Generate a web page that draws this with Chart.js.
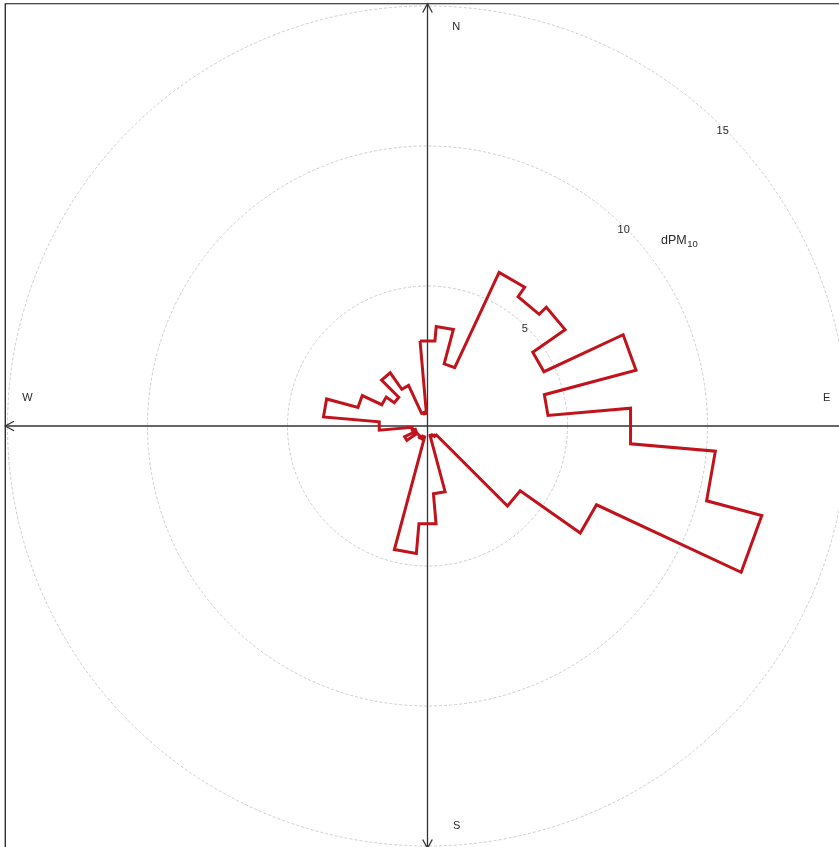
<!DOCTYPE html>
<html>
<head>
<meta charset="utf-8">
<script src="https://cdn.jsdelivr.net/npm/chart.js@4.4.1/dist/chart.umd.min.js"></script>
<style>
  html, body { margin: 0; padding: 0; background: #ffffff; }
  #wrap { width: 839px; height: 847px; }
</style>
</head>
<body>
<div id="wrap"><canvas id="rose" width="839" height="847"></canvas></div>
<script>
// Centre of each 10° wind sector, degrees clockwise from north
const directions = [0, 10, 20, 30, 40, 50, 60, 70, 80, 90, 100, 110,
                    120, 130, 140, 150, 160, 170, 180, 190, 200, 210, 220, 230,
                    240, 250, 260, 270, 280, 290, 300, 310, 320, 330, 340, 350];
// dPM10 per sector
const dpm10 = [3.05, 3.57, 2.30, 6.05, 5.64, 6.00, 4.59, 7.71, 4.32, 7.28, 10.32, 12.36,
               6.66, 4.04, 0.45, 0.40, 0.35, 2.43, 3.50, 4.57, 0.40, 0.50, 0.45, 0.45,
               0.90, 0.45, 0.55, 1.73, 3.73, 2.57, 1.80, 1.45, 2.32, 1.60, 0.50, 0.45];
const sectorWidth = 10;
// Concentric reference rings and their labels
const ringLevels = [5, 10, 15];
const compassLabels = ['N', 'E', 'S', 'W'];
const seriesName = 'dPM';
const seriesSub = '10';

// Outline: each sector is a flat chord at its value, joined radially to the next
const outline = [];
directions.forEach((d, i) => {
  const r = dpm10[i];
  [d - sectorWidth / 2, d + sectorWidth / 2].forEach(a => {
    const t = a * Math.PI / 180;
    outline.push({ x: r * Math.sin(t), y: r * Math.cos(t) });
  });
});
outline.push(outline[0]);

const PX = 28;            // pixels per unit
const CX = 427.5, CY = 426;
const W = 839, H = 847;
const AXIS_EXT = 15.08;   // half-length of the compass axes, in units

const roseDecor = {
  id: 'roseDecor',
  beforeDatasetsDraw(chart) {
    const { ctx, scales: { x, y } } = chart;
    const px = v => x.getPixelForValue(v);
    const py = v => y.getPixelForValue(v);
    const cx = px(0), cy = py(0);
    ctx.save();

    // rings
    ctx.strokeStyle = '#cdcdcd';
    ctx.lineWidth = 1;
    ctx.setLineDash([3, 2]);
    ringLevels.forEach(r => {
      ctx.beginPath();
      ctx.arc(cx, cy, px(r) - cx, 0, Math.PI * 2);
      ctx.stroke();
    });
    ctx.setLineDash([]);

    // plot frame (left and top edges)
    const left = px(-AXIS_EXT), top = py(AXIS_EXT);
    ctx.strokeStyle = '#111';
    ctx.lineWidth = 1.2;
    ctx.beginPath();
    ctx.moveTo(left, H + 5); ctx.lineTo(left, top); ctx.lineTo(W + 5, top);
    ctx.stroke();

    // compass axes with open arrowheads
    const arrow = (ax, ay, dx, dy) => {
      const len = 10, spread = 0.5;
      const ang = Math.atan2(dy, dx);
      ctx.beginPath();
      ctx.moveTo(ax - len * Math.cos(ang - spread), ay - len * Math.sin(ang - spread));
      ctx.lineTo(ax, ay);
      ctx.lineTo(ax - len * Math.cos(ang + spread), ay - len * Math.sin(ang + spread));
      ctx.stroke();
    };
    ctx.strokeStyle = '#333';
    ctx.lineWidth = 1.3;
    const xl = px(-AXIS_EXT), xr = px(AXIS_EXT), yt = py(AXIS_EXT), yb = py(-AXIS_EXT);
    ctx.beginPath();
    ctx.moveTo(xl, cy); ctx.lineTo(xr, cy);
    ctx.moveTo(cx, yt); ctx.lineTo(cx, yb);
    ctx.stroke();
    arrow(xl, cy, -1, 0);
    arrow(xr, cy, 1, 0);
    arrow(cx, yt, 0, -1);
    arrow(cx, yb, 0, 1);

    // ring labels along the 45° bearing
    ctx.fillStyle = '#2a2a2a';
    ctx.font = '11px Arial, "Liberation Sans", sans-serif';
    ctx.textAlign = 'center';
    ctx.textBaseline = 'middle';
    const s45 = Math.SQRT1_2;
    ringLevels.forEach(r => {
      const rr = r - 0.09;
      ctx.fillText(String(r), px(rr * s45), py(rr * s45));
    });

    // compass letters
    const compassPos = { N: [1.03, 14.25], E: [14.26, 0.99], S: [1.04, -14.3], W: [-14.29, 0.99] };
    compassLabels.forEach(c => {
      const [lx, ly] = compassPos[c];
      ctx.fillText(c, px(lx), py(ly));
    });

    // series label with subscript
    ctx.textAlign = 'left';
    ctx.textBaseline = 'alphabetic';
    ctx.font = '12.5px Arial, "Liberation Sans", sans-serif';
    const lx = px(8.34), ly = py(6.5);
    ctx.fillText(seriesName, lx, ly);
    const wMain = ctx.measureText(seriesName).width;
    ctx.font = '9.5px Arial, "Liberation Sans", sans-serif';
    ctx.fillText(seriesSub, lx + wMain + 0.5, ly + 3);

    ctx.restore();
  }
};

new Chart(document.getElementById('rose'), {
  type: 'scatter',
  data: {
    datasets: [{
      label: seriesName + seriesSub,
      data: outline,
      showLine: true,
      fill: false,
      tension: 0,
      borderColor: '#c0131c',
      borderWidth: 3,
      borderJoinStyle: 'miter',
      pointRadius: 0,
      pointHoverRadius: 0
    }]
  },
  options: {
    responsive: false,
    animation: false,
    events: [],
    layout: { padding: 0 },
    plugins: { legend: { display: false }, tooltip: { enabled: false }, title: { display: false } },
    scales: {
      x: { type: 'linear', display: false, min: -CX / PX, max: (W - CX) / PX },
      y: { type: 'linear', display: false, min: -(H - CY) / PX, max: CY / PX }
    }
  },
  plugins: [roseDecor]
});
</script>
</body>
</html>
